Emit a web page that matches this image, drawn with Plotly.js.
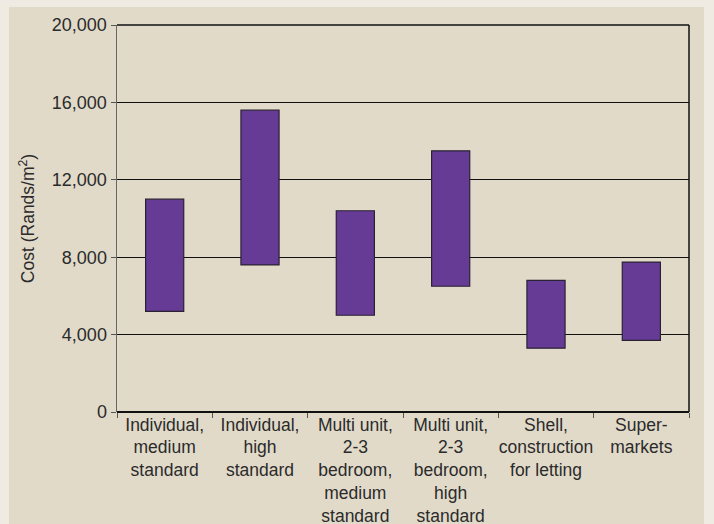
<!DOCTYPE html>
<html>
<head>
<meta charset="utf-8">
<script src="https://cdn.plot.ly/plotly-3.0.1.min.js"></script>
<style>
  html, body { margin: 0; padding: 0; background: #efebe2; }
  #chart { width: 714px; height: 524px; }
</style>
</head>
<body>
<div id="chart"></div>
<script>
// Building cost ranges per m² (Rands)
const categories = [
  'Individual,<br>medium<br>standard',
  'Individual,<br>high<br>standard',
  'Multi unit,<br>2-3<br>bedroom,<br>medium<br>standard',
  'Multi unit,<br>2-3<br>bedroom,<br>high<br>standard',
  'Shell,<br>construction<br>for letting',
  'Super-<br>markets'
];
const lowCost  = [5200, 7600, 5000, 6500, 3300, 3700];
const highCost = [11000, 15600, 10400, 13500, 6800, 7750];
const yTicks = [0, 4000, 8000, 12000, 16000, 20000];

const spans = highCost.map((h, i) => h - lowCost[i]);

const fontFamily = '"Liberation Sans", Arial, Helvetica, sans-serif';
const textColor = '#2b2b2b';

const trace = {
  type: 'bar',
  x: categories,
  y: spans,
  base: lowCost,
  width: 0.4,
  marker: { color: '#653b96', line: { color: '#2a2233', width: 1.2 } },
  hoverinfo: 'skip'
};

const layout = {
  width: 714,
  height: 524,
  margin: { l: 117, r: 25, t: 25, b: 112 },
  paper_bgcolor: '#efebe2',
  plot_bgcolor: '#e1dac9',
  showlegend: false,
  font: { family: fontFamily, color: textColor, size: 18 },
  xaxis: {
    type: 'category',
    tickson: 'boundaries',
    tickangle: 0,
    ticks: 'outside',
    ticklen: 5,
    tickcolor: '#555',
    tickwidth: 1,
    showgrid: false,
    showline: false,
    zeroline: false,
    automargin: false,
    tickfont: { size: 17.5, color: textColor },
    fixedrange: true
  },
  yaxis: {
    range: [0, 20000],
    tickvals: yTicks,
    tickformat: ',d',
    ticks: 'outside',
    ticklen: 5,
    tickcolor: '#555',
    showline: true,
    linecolor: '#666',
    linewidth: 1.5,
    showgrid: true,
    gridcolor: '#111',
    gridwidth: 1.2,
    zeroline: true,
    zerolinecolor: '#111',
    zerolinewidth: 1.2,
    tickfont: { size: 18, color: textColor },
    title: { text: 'Cost (Rands/m<sup>2</sup>)', font: { size: 17.5, color: textColor }, standoff: 12 },
    automargin: false,
    fixedrange: true
  },
  shapes: [
    // inner panel
    { type: 'rect', xref: 'paper', yref: 'paper', x0: -0.1888, x1: 1.0262, y0: -0.30, y1: 1.0465,
      fillcolor: '#e1dac9', line: { width: 0 }, layer: 'below' },
    // top frame line
    { type: 'line', xref: 'paper', yref: 'paper', x0: 0, x1: 1, y0: 1, y1: 1,
      line: { color: '#111', width: 1.5 } },
    // right frame line
    { type: 'line', xref: 'paper', yref: 'paper', x0: 1, x1: 1, y0: 0, y1: 1,
      line: { color: '#111', width: 1.5 } }
  ]
};

Plotly.newPlot('chart', [trace], layout, { displayModeBar: false, staticPlot: true });
</script>
</body>
</html>
